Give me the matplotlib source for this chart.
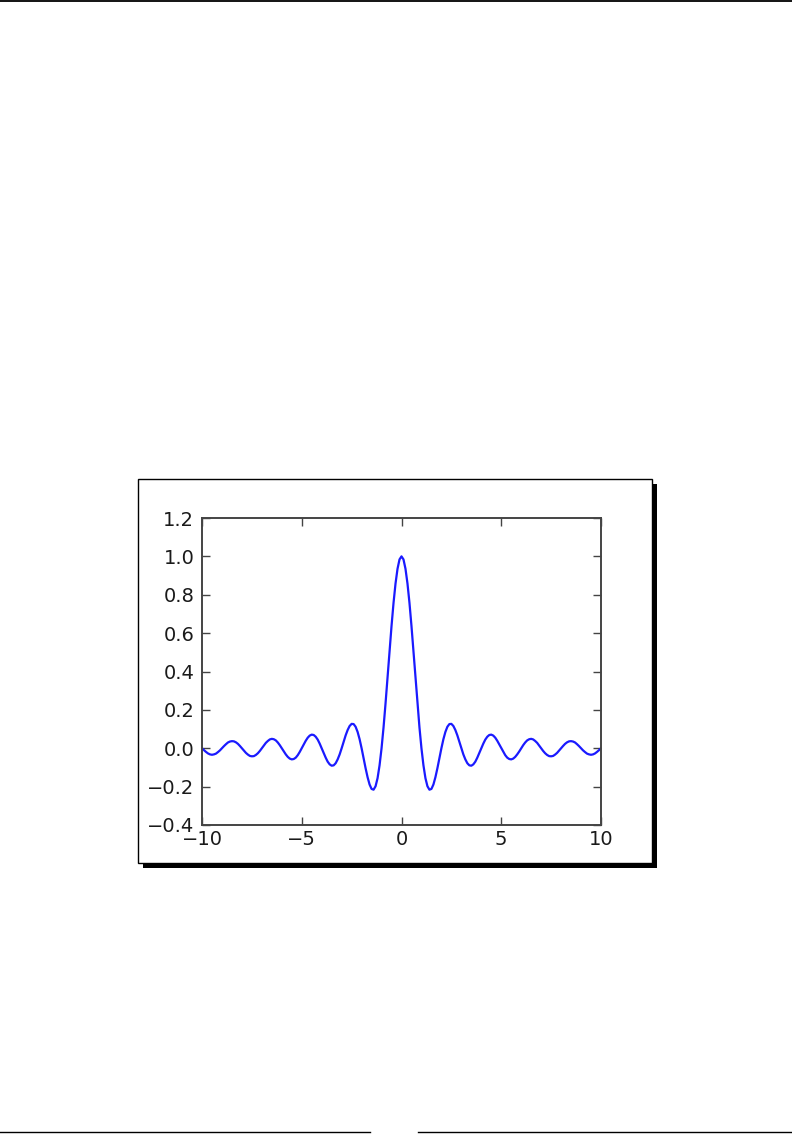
import numpy as np
import matplotlib
matplotlib.use("Agg")
import matplotlib.pyplot as plt
from matplotlib.patches import Rectangle
from matplotlib.lines import Line2D

x_start, x_stop = -10.0, 10.0
y_values = [
    0.000, -0.010, -0.019, -0.027, -0.032, -0.034, -0.032, -0.028, -0.020, -0.011,
    0.000, 0.011, 0.021, 0.030, 0.035, 0.037, 0.036, 0.031, 0.023, 0.012,
    0.000, -0.012, -0.024, -0.033, -0.040, -0.042, -0.041, -0.035, -0.026, -0.014,
    0.000, 0.014, 0.028, 0.038, 0.046, 0.049, 0.047, 0.041, 0.030, 0.016,
    0.000, -0.017, -0.032, -0.045, -0.054, -0.058, -0.056, -0.049, -0.036, -0.019,
    0.000, 0.020, 0.039, 0.055, 0.066, 0.071, 0.069, 0.060, 0.045, 0.024,
    0.000, -0.025, -0.049, -0.070, -0.084, -0.091, -0.089, -0.078, -0.058, -0.032,
    0.000, 0.034, 0.067, 0.095, 0.116, 0.127, 0.126, 0.112, 0.085, 0.047,
    0.000, -0.052, -0.104, -0.151, -0.189, -0.212, -0.216, -0.198, -0.156, -0.089,
    0.000, 0.109, 0.234, 0.368, 0.505, 0.637, 0.757, 0.858, 0.935, 0.984,
    1.000,
    0.984, 0.935, 0.858, 0.757, 0.637, 0.505, 0.368, 0.234, 0.109, 0.000,
    -0.089, -0.156, -0.198, -0.216, -0.212, -0.189, -0.151, -0.104, -0.052, 0.000,
    0.047, 0.085, 0.112, 0.126, 0.127, 0.116, 0.095, 0.067, 0.034, 0.000,
    -0.032, -0.058, -0.078, -0.089, -0.091, -0.084, -0.070, -0.049, -0.025, 0.000,
    0.024, 0.045, 0.060, 0.069, 0.071, 0.066, 0.055, 0.039, 0.020, 0.000,
    -0.019, -0.036, -0.049, -0.056, -0.058, -0.054, -0.045, -0.032, -0.017, 0.000,
    0.016, 0.030, 0.041, 0.047, 0.049, 0.046, 0.038, 0.028, 0.014, 0.000,
    -0.014, -0.026, -0.035, -0.041, -0.042, -0.040, -0.033, -0.024, -0.012, 0.000,
    0.012, 0.023, 0.031, 0.036, 0.037, 0.035, 0.030, 0.021, 0.011, 0.000,
    -0.011, -0.020, -0.028, -0.032, -0.034, -0.032, -0.027, -0.019, -0.010, 0.000,
]
x_values = np.linspace(x_start, x_stop, len(y_values))
x_ticks = [-10, -5, 0, 5, 10]
y_ticks = [-0.4, -0.2, 0.0, 0.2, 0.4, 0.6, 0.8, 1.0, 1.2]

W, H = 792, 1142
fig = plt.figure(figsize=(W / 100, H / 100), dpi=100)
fig.patch.set_facecolor("white")

def fx(px):
    return px / W

def fy(py):
    return 1 - py / H

# page header / footer rules
fig.add_artist(Line2D([0, 1], [fy(0.8), fy(0.8)], color="black", lw=1.3, transform=fig.transFigure))
fig.add_artist(Line2D([0, fx(370)], [fy(1132), fy(1132)], color="black", lw=1.0, transform=fig.transFigure))
fig.add_artist(Line2D([fx(418), 1], [fy(1132), fy(1132)], color="black", lw=1.0, transform=fig.transFigure))

# drop shadow and framed picture box
bx0, by0, bx1, by1 = 138, 479, 652, 863
off = 5
fig.add_artist(Rectangle((fx(bx0 + off), fy(by1 + off)), fx(bx1 - bx0), (by1 - by0) / H,
                         transform=fig.transFigure, facecolor="black", edgecolor="none", zorder=0))
fig.add_artist(Rectangle((fx(bx0), fy(by1)), fx(bx1 - bx0), (by1 - by0) / H,
                         transform=fig.transFigure, facecolor="white", edgecolor="black",
                         lw=1.0, zorder=1))

ax_l, ax_t, ax_r, ax_b = 202, 518, 601, 825
ax = fig.add_axes([fx(ax_l), fy(ax_b), fx(ax_r - ax_l), (ax_b - ax_t) / H], zorder=2)
ax.plot(x_values, y_values, color="#1a1aff", lw=1.6)
ax.set_xlim(-10, 10)
ax.set_ylim(-0.4, 1.2)
ax.set_xticks(x_ticks)
ax.set_yticks(y_ticks)
ax.set_yticklabels([f"{v:.1f}".replace("-", "\u2212") for v in y_ticks])
ax.tick_params(direction="in", length=5.5, width=1, color="#444444",
               top=True, right=True, labelsize=14, labelcolor="#1a1a1a")
ax.tick_params(axis="x", pad=3.5)
ax.tick_params(axis="y", pad=5.5)
for s in ax.spines.values():
    s.set_color("#444444")
    s.set_linewidth(1.4)

fig.savefig("out.png", dpi=100, facecolor="white")
